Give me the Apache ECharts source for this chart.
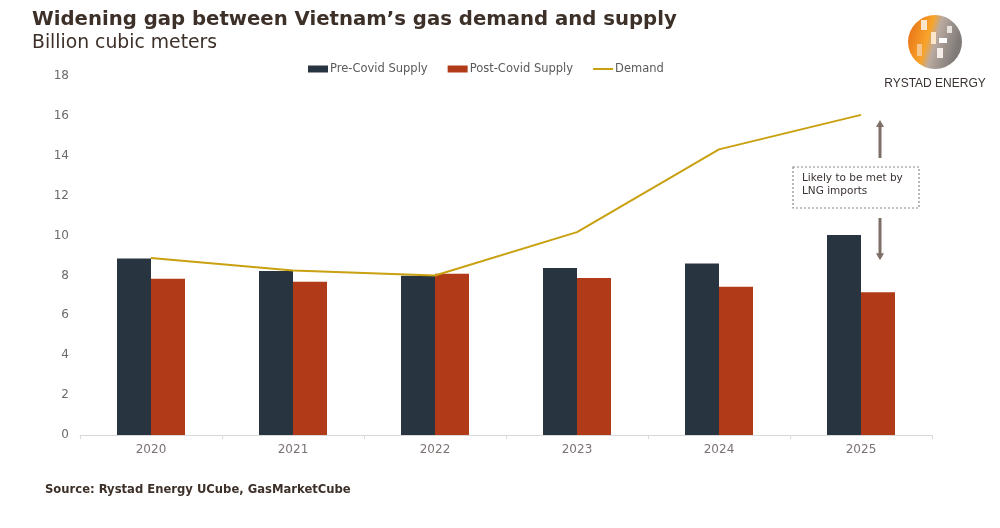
<!DOCTYPE html>
<html>
<head>
<meta charset="utf-8">
<script src="https://cdn.jsdelivr.net/npm/echarts@6/dist/echarts.min.js"></script>
<style>
html,body{margin:0;padding:0;background:#fff;}
#chart{width:1000px;height:528px;}
</style>
</head>
<body>
<div id="chart"></div>
<script>
const categories = ['2020','2021','2022','2023','2024','2025'];
const preCovidSupply = [8.85, 8.22, 7.99, 8.37, 8.6, 10.03];
const postCovidSupply = [7.83, 7.69, 8.09, 7.87, 7.43, 7.16];
const demand = [8.88, 8.25, 8.0, 10.17, 14.32, 16.05];
const yTicks = [0, 2, 4, 6, 8, 10, 12, 14, 16, 18];

const FONT = '"DejaVu Sans", Verdana, sans-serif';
const chart = echarts.init(document.getElementById('chart'), null, {renderer: 'canvas'});

const option = {
  backgroundColor: '#ffffff',
  animation: false,
  title: [
    {text: 'Widening gap between Vietnam\u2019s gas demand and supply', left: 27, top: 5,
     textStyle: {fontFamily: FONT, fontSize: 19.7, fontWeight: 'bold', color: '#3d3029'}},
    {text: 'Billion cubic meters', left: 27, top: 29,
     textStyle: {fontFamily: FONT, fontSize: 18.8, fontWeight: 'normal', color: '#3d3029'}},
    {text: 'Source: Rystad Energy UCube, GasMarketCube', left: 40, top: 479,
     textStyle: {fontFamily: FONT, fontSize: 11.6, fontWeight: 'bold', color: '#3d3029'}}
  ],
  legend: {
    top: 58, left: 303,
    itemWidth: 20, itemHeight: 7, itemGap: 20,
    textStyle: {fontFamily: FONT, fontSize: 11.5, color: '#5a5a5a', padding: [0,0,0,-3]},
    data: [
      {name: 'Pre-Covid Supply', icon: 'rect'},
      {name: 'Post-Covid Supply', icon: 'rect'},
      {name: 'Demand', icon: 'path://M0,0L40,0L40,4L0,4Z'}
    ]
  },
  grid: {left: 80, right: 68, top: 76, bottom: 93, containLabel: false},
  xAxis: {
    type: 'category', data: categories, boundaryGap: true,
    axisLine: {lineStyle: {color: '#d9d9d9', width: 1}},
    axisTick: {show: true, length: 4, lineStyle: {color: '#d9d9d9'}},
    axisLabel: {fontFamily: FONT, fontSize: 12, color: '#7b7372', margin: 9}
  },
  yAxis: {
    type: 'value', min: 0, max: 18, interval: 2,
    axisLine: {show: false}, axisTick: {show: false},
    splitLine: {show: false},
    axisLabel: {fontFamily: FONT, fontSize: 12, color: '#6a6a6a', margin: 11,
      formatter: v => yTicks.includes(v) ? String(v) : ''}
  },
  series: [
    {name: 'Pre-Covid Supply', type: 'bar', data: preCovidSupply, barWidth: 34, barGap: '0%',
     itemStyle: {color: '#283440'}},
    {name: 'Post-Covid Supply', type: 'bar', data: postCovidSupply, barWidth: 34, barGap: '0%',
     itemStyle: {color: '#b13a19'}},
    {name: 'Demand', type: 'line', data: demand, symbol: 'none',
     lineStyle: {color: '#c9a00f', width: 2}, itemStyle: {color: '#c9a00f'}}
  ]
};
chart.setOption(option);

// annotation + logo
const xc = chart.convertToPixel({xAxisIndex: 0}, '2025');
const yDem = chart.convertToPixel({yAxisIndex: 0}, demand[5]);
const yPost = chart.convertToPixel({yAxisIndex: 0}, postCovidSupply[5]);
const ax = xc + 19;
const arrowColor = '#7d6e67';
const boxL = 793, boxT = 167, boxW = 126, boxH = 41;

function arrow(x, y1, y2) { // from y1 to tip y2
  const dir = y2 > y1 ? 1 : -1;
  return [
    {type: 'line', shape: {x1: x, y1: y1, x2: x, y2: y2 - dir * 6},
     style: {stroke: arrowColor, lineWidth: 3}},
    {type: 'polygon', shape: {points: [[x - 4, y2 - dir * 7], [x + 4, y2 - dir * 7], [x, y2]]},
     style: {fill: arrowColor}}
  ];
}

const globe = {
  type: 'group', x: 935, y: 42,
  children: [
    {type: 'circle', shape: {cx: 0, cy: 0, r: 27},
     style: {fill: new echarts.graphic.LinearGradient(0, 0, 1, 0.3, [
       {offset: 0, color: '#e56a14'}, {offset: 0.45, color: '#f8a42a'},
       {offset: 0.6, color: '#b9aaa0'}, {offset: 1, color: '#7f7a78'}])}},
    {type: 'rect', shape: {x: -14, y: -22, width: 6, height: 10}, style: {fill: '#fbe6cc'}},
    {type: 'rect', shape: {x: -4, y: -10, width: 5, height: 12}, style: {fill: '#fbe6cc'}},
    {type: 'rect', shape: {x: 4, y: -4, width: 8, height: 5}, style: {fill: '#ffffff'}},
    {type: 'rect', shape: {x: 2, y: 6, width: 6, height: 10}, style: {fill: '#f4ece6'}},
    {type: 'rect', shape: {x: -18, y: 2, width: 5, height: 12}, style: {fill: '#f6c58a'}},
    {type: 'rect', shape: {x: 12, y: -16, width: 5, height: 7}, style: {fill: '#e8e2de'}}
  ]
};

chart.setOption({
  graphic: [
    {type: 'rect', shape: {x: boxL, y: boxT, width: boxW, height: boxH},
     style: {fill: '#ffffff', stroke: '#8a8a8a', lineWidth: 1.2, lineDash: [2, 2]}},
    {type: 'text', x: boxL + 9, y: boxT + 5,
     style: {text: 'Likely to be met by\nLNG imports', fontFamily: FONT, fontSize: 10.5,
             lineHeight: 13, fill: '#3a3230'}},
    ...arrow(ax, boxT - 9, yDem + 5),
    ...arrow(ax, boxT + boxH + 10, yPost - 32),
    globe,
    {type: 'text', x: 935, y: 78,
     style: {text: 'RYSTAD ENERGY', fontFamily: '"Liberation Sans", sans-serif',
             fontSize: 12, fill: '#3a3230', align: 'center'}}
  ]
});
</script>
</body>
</html>
